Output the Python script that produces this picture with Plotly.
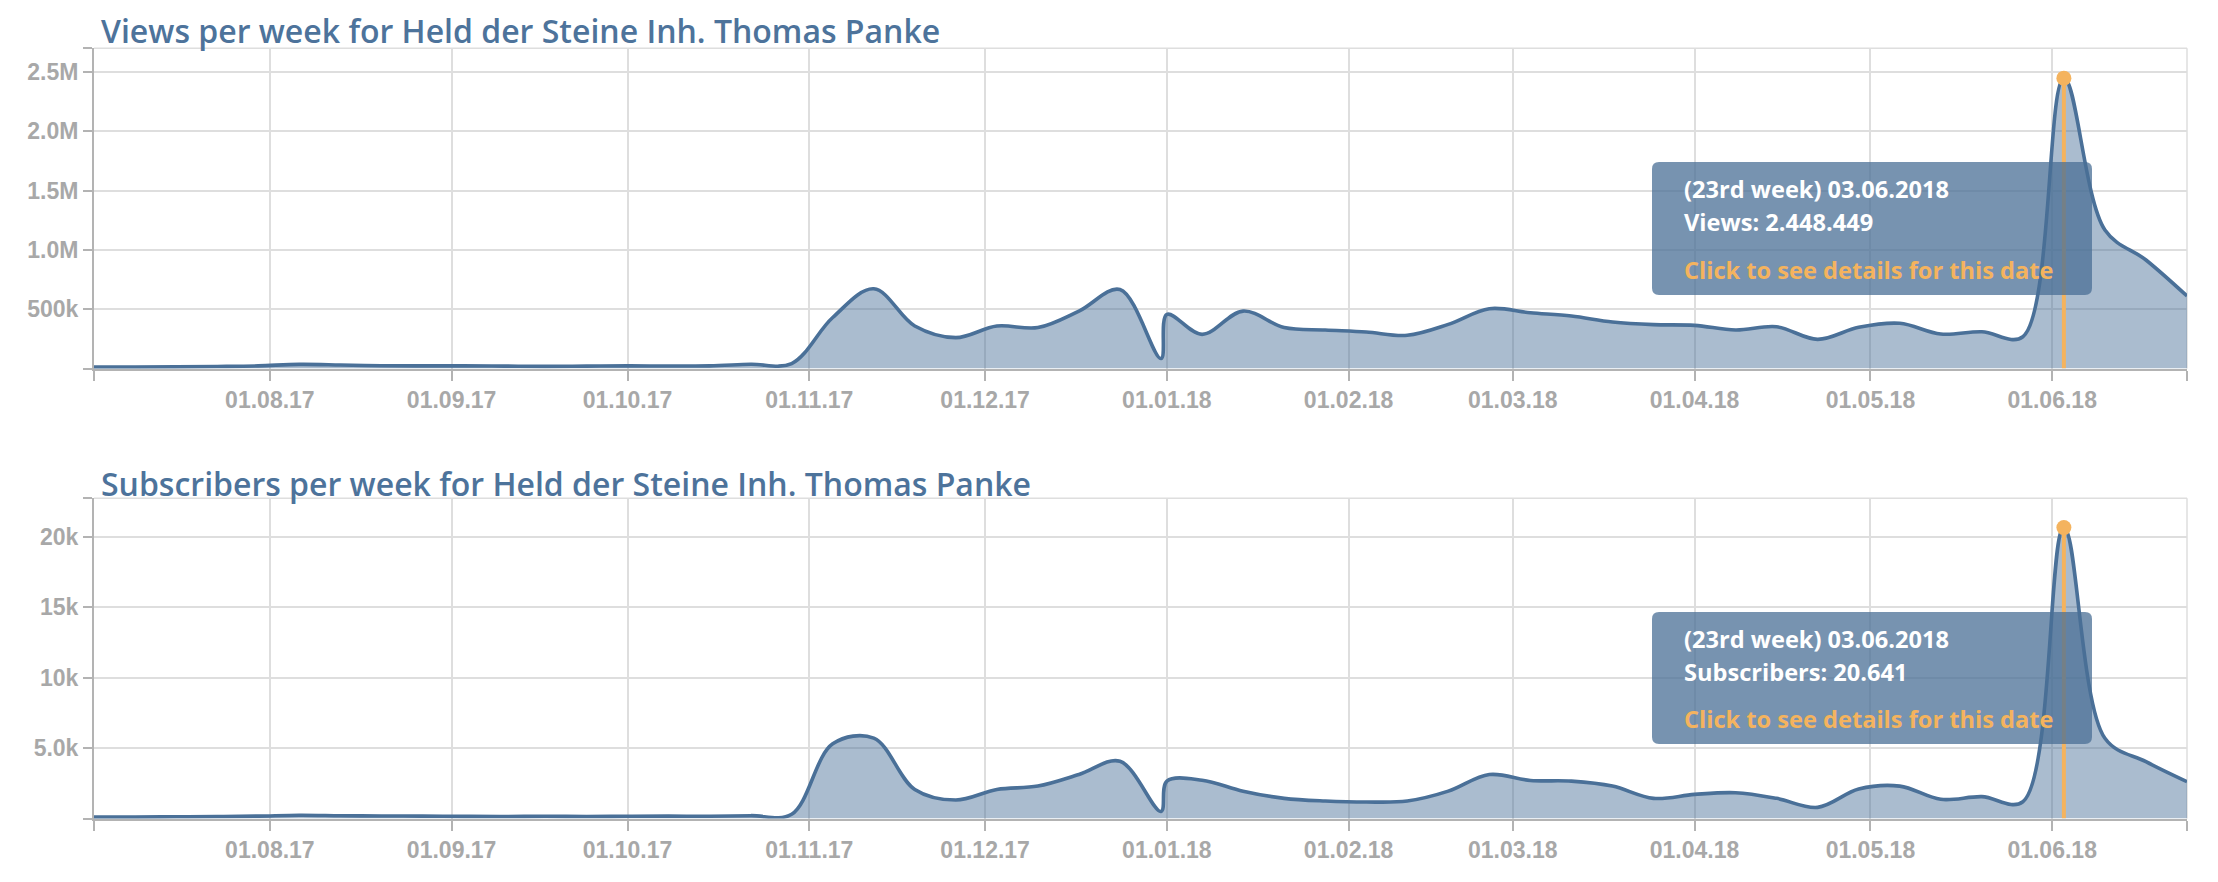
import plotly.graph_objects as go

# ---------------- data ----------------
DATES = [
    "2017-07-02", "2017-07-09", "2017-07-16", "2017-07-23", "2017-07-30",
    "2017-08-06", "2017-08-13", "2017-08-20", "2017-08-27",
    "2017-09-03", "2017-09-10", "2017-09-17", "2017-09-24",
    "2017-10-01", "2017-10-08", "2017-10-15", "2017-10-22", "2017-10-29",
    "2017-11-05", "2017-11-12", "2017-11-19", "2017-11-26",
    "2017-12-03", "2017-12-10", "2017-12-17", "2017-12-24", "2017-12-31",
    "2018-01-01", "2018-01-07", "2018-01-14", "2018-01-21", "2018-01-28",
    "2018-02-04", "2018-02-11", "2018-02-18", "2018-02-25",
    "2018-03-04", "2018-03-11", "2018-03-18", "2018-03-25",
    "2018-04-01", "2018-04-08", "2018-04-15", "2018-04-22", "2018-04-29",
    "2018-05-06", "2018-05-13", "2018-05-20", "2018-05-27",
    "2018-06-03", "2018-06-10", "2018-06-17", "2018-06-24",
]

VIEWS = [
    12000, 12000, 14000, 17000, 22000,
    35000, 30000, 23000, 22000,
    22000, 20000, 18000, 20000,
    22000, 21000, 22000, 36000, 42000,
    430000, 672000, 358000, 260000,
    358000, 345000, 484000, 666000, 84000,
    456000, 288000, 484000, 345000, 325000,
    308000, 280000, 372000, 504000,
    470000, 442000, 392000, 370000,
    364000, 325000, 352000, 246000, 347000,
    381000, 291000, 310000, 268000,
    2448449, 1168000, 915000, 611000,
]

SUBSCRIBERS = [
    100, 100, 120, 140, 170,
    230, 200, 180, 170,
    150, 140, 160, 140,
    160, 170, 160, 200, 300,
    5300, 5700, 2060, 1310,
    2060, 2300, 3120, 4060, 500,
    2650, 2720, 1940, 1430, 1240,
    1170, 1240, 1940, 3120,
    2700, 2650, 2300, 1430,
    1710, 1830, 1430, 790, 2090,
    2300, 1360, 1550, 1190,
    20641, 5690, 4030, 2610,
]

MONTH_TICKS = ["2017-08-01", "2017-09-01", "2017-10-01", "2017-11-01", "2017-12-01",
               "2018-01-01", "2018-02-01", "2018-03-01", "2018-04-01", "2018-05-01",
               "2018-06-01"]
MONTH_LABELS = ["01.08.17", "01.09.17", "01.10.17", "01.11.17", "01.12.17",
                "01.01.18", "01.02.18", "01.03.18", "01.04.18", "01.05.18",
                "01.06.18"]

VIEW_TICKS = [0, 500000, 1000000, 1500000, 2000000, 2500000, 2700000]
VIEW_TICK_LABELS = ["", "500k", "1.0M", "1.5M", "2.0M", "2.5M", ""]
SUB_TICKS = [0, 5000, 10000, 15000, 20000, 22720]
SUB_TICK_LABELS = ["", "5.0k", "10k", "15k", "20k", ""]

TITLE_VIEWS = "Views per week for Held der Steine Inh. Thomas Panke"
TITLE_SUBS = "Subscribers per week for Held der Steine Inh. Thomas Panke"

HILITE_INDEX = 49  # 03.06.2018, 23rd week
TIP_VIEWS = ["(23rd week) 03.06.2018", "Views: 2.448.449", "Click to see details for this date"]
TIP_SUBS = ["(23rd week) 03.06.2018", "Subscribers: 20.641", "Click to see details for this date"]

# ---------------- style ----------------
W, H = 2218, 882
ML, MR = 94, 31
PW = W - ML - MR
LINE = "#4a7098"
FILL = "rgba(74,112,152,0.47)"
ORANGE = "#f4b35e"
GRID = "#dedede"
AXIS = "#b3b3b3"
TICKFONT = dict(family="Liberation Sans, Arial, sans-serif", size=23, color="#a8a8a8", weight="bold")


def px_x(px):
    return (px - ML) / PW


def px_y(py):
    return 1 - py / H


def rounded_rect(x0, y0, x1, y1, r):
    X0, X1 = px_x(x0), px_x(x1)
    Y0, Y1 = px_y(y0), px_y(y1)  # Y0 is top
    rx = r / PW
    ry = r / H
    return (f"M {X0 + rx} {Y0} L {X1 - rx} {Y0} Q {X1} {Y0} {X1} {Y0 - ry} "
            f"L {X1} {Y1 + ry} Q {X1} {Y1} {X1 - rx} {Y1} L {X0 + rx} {Y1} "
            f"Q {X0} {Y1} {X0} {Y1 + ry} L {X0} {Y0 - ry} Q {X0} {Y0} {X0 + rx} {Y0} Z")


fig = go.Figure()

panels = [
    ("x", "y", VIEWS, [0, 2700000], VIEW_TICKS, VIEW_TICK_LABELS),
    ("x2", "y2", SUBSCRIBERS, [0, 22720], SUB_TICKS, SUB_TICK_LABELS),
]

for xa, ya, vals, _, _, _ in panels:
    fig.add_trace(go.Scatter(
        x=DATES, y=vals, xaxis=xa, yaxis=ya, mode="lines",
        line=dict(color=LINE, width=3.6, shape="spline", smoothing=1.0),
        fill="tozeroy", fillcolor=FILL, hoverinfo="skip", showlegend=False,
    ))
    hx = DATES[HILITE_INDEX]
    hv = vals[HILITE_INDEX]
    fig.add_trace(go.Scatter(
        x=[hx, hx], y=[0, hv], xaxis=xa, yaxis=ya, mode="lines",
        line=dict(color=ORANGE, width=4), hoverinfo="skip", showlegend=False,
    ))
    fig.add_trace(go.Scatter(
        x=[hx], y=[hv], xaxis=xa, yaxis=ya, mode="markers",
        marker=dict(color=ORANGE, size=15), hoverinfo="skip", showlegend=False,
    ))

x_tickvals = [DATES[0]] + MONTH_TICKS + [DATES[-1]]
x_ticktext = [""] + MONTH_LABELS + [""]

domains = [[px_y(368.5), px_y(48.3)], [px_y(818.5), px_y(498.3)]]

layout = dict(
    width=W, height=H,
    margin=dict(l=ML, r=MR, t=0, b=0),
    paper_bgcolor="white", plot_bgcolor="white",
    hovermode=False, showlegend=False,
)

for i, (xa, ya, vals, yr, yt, ytl) in enumerate(panels):
    xkey = "xaxis" if i == 0 else "xaxis2"
    ykey = "yaxis" if i == 0 else "yaxis2"
    layout[xkey] = dict(
        type="date", range=[DATES[0], DATES[-1]], domain=[0, 1],
        anchor=ya,
        tickvals=x_tickvals, ticktext=x_ticktext,
        showgrid=True, gridcolor=GRID, gridwidth=1.5,
        showline=True, linecolor=AXIS, linewidth=2,
        ticks="outside", ticklen=10, tickcolor=AXIS, tickwidth=1.5,
        tickfont=TICKFONT, zeroline=False, fixedrange=True,
    )
    layout[ykey] = dict(
        range=yr, domain=domains[i], anchor=xa,
        tickvals=yt, ticktext=ytl,
        showgrid=True, gridcolor=GRID, gridwidth=1.5,
        showline=True, linecolor=AXIS, linewidth=2,
        ticks="outside", ticklen=9, tickcolor=AXIS, tickwidth=1.5,
        tickfont=TICKFONT, zeroline=False, fixedrange=True,
    )

fig.update_layout(**layout)

# top & right plot borders
for xa, ya in [("x", "y"), ("x2", "y2")]:
    fig.add_shape(type="line", xref=f"{xa} domain", yref=f"{ya} domain",
                  x0=0, x1=1, y0=1, y1=1, line=dict(color=GRID, width=1.5), layer="below")
    fig.add_shape(type="line", xref=f"{xa} domain", yref=f"{ya} domain",
                  x0=1, x1=1, y0=0, y1=1, line=dict(color=GRID, width=1.5), layer="below")

# titles
TITLE_FONT = dict(family="Open Sans", size=32, color="#4d739b", weight=600)
fig.add_annotation(text=TITLE_VIEWS, xref="paper", yref="paper", x=px_x(99), y=px_y(30),
                   xanchor="left", yanchor="middle", showarrow=False, font=TITLE_FONT)
fig.add_annotation(text=TITLE_SUBS, xref="paper", yref="paper", x=px_x(99), y=px_y(483),
                   xanchor="left", yanchor="middle", showarrow=False, font=TITLE_FONT)

# tooltips
TIP_FILL = "rgba(74,111,150,0.75)"
for (top, bottom, rows, lines) in [(162, 295, (189, 222, 270), TIP_VIEWS),
                                   (612, 744, (639, 672, 719), TIP_SUBS)]:
    fig.add_shape(type="path", xref="paper", yref="paper",
                  path=rounded_rect(1652, top, 2092, bottom, 7),
                  fillcolor=TIP_FILL, line=dict(width=0), layer="above")
    for j, (ry, txt) in enumerate(zip(rows, lines)):
        col = "white" if j < 2 else ORANGE
        fig.add_annotation(text=txt, xref="paper", yref="paper", x=px_x(1682), y=px_y(ry),
                           xanchor="left", yanchor="middle", showarrow=False,
                           font=dict(family="Open Sans", size=23.6, color=col, weight=700))

fig.write_html("out.html", config={"displayModeBar": False},
               post_script="document.body.style.margin='0px';")
